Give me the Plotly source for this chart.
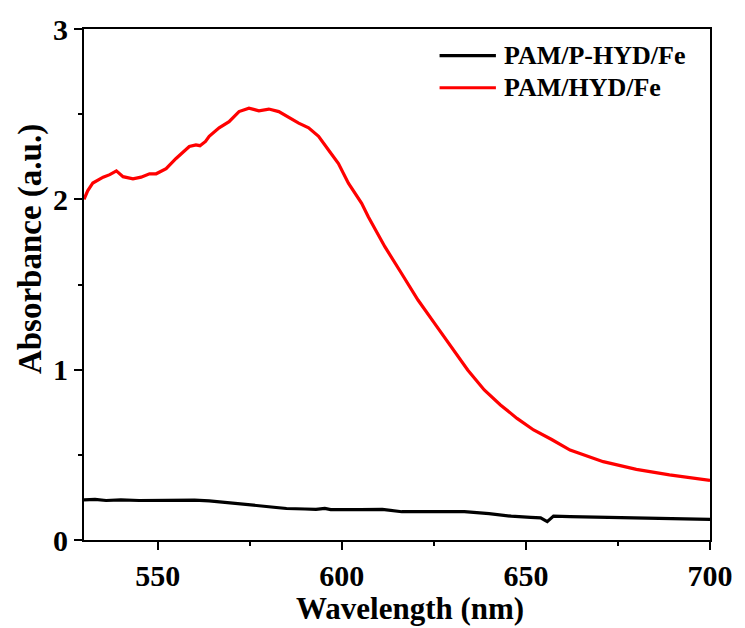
import plotly.graph_objects as go

# Data
wl_red = [530, 531, 532.4, 535.2, 537, 538.8, 540.6, 543.3, 545.5, 547.8, 549.6, 552.3, 555.0,
          558.6, 560.4, 561.5, 563, 564.0, 566.7, 569.4, 572.1, 574.8, 577.5, 580.2, 582.9,
          585.6, 588.3, 591.0, 593.7, 596.4, 599.1, 601.8, 605.4, 607.2, 611.7, 616.2, 620.7,
          625.2, 629.7, 634.2, 638.7, 643.1, 647.6, 652.1, 657, 662.0, 671.0, 680.0, 689.0, 700]
abs_red = [2.00, 2.05, 2.096, 2.13, 2.145, 2.167, 2.133, 2.12, 2.13, 2.15, 2.15, 2.18, 2.24,
           2.31, 2.32, 2.315, 2.34, 2.37, 2.42, 2.456, 2.515, 2.535, 2.52, 2.53, 2.515,
           2.48, 2.447, 2.42, 2.37, 2.29, 2.21, 2.095, 1.977, 1.898, 1.722, 1.566, 1.409,
           1.272, 1.135, 0.998, 0.881, 0.793, 0.714, 0.646, 0.59, 0.528, 0.46, 0.415, 0.382, 0.35]

wl_black = [530, 533, 536, 540, 545, 550, 555, 560, 564, 568.7, 575, 580.3, 585, 590, 593,
            595.4, 597, 605, 611, 616.3, 625, 633.3, 640, 646, 651.3, 654, 655.8, 657.5,
            662, 669.2, 680, 690, 700]
abs_black = [0.235, 0.238, 0.232, 0.235, 0.232, 0.233, 0.235, 0.234, 0.23, 0.219, 0.205, 0.192,
             0.185, 0.182, 0.180, 0.186, 0.178, 0.178, 0.18, 0.166, 0.168, 0.166, 0.155, 0.14,
             0.133, 0.13, 0.108, 0.14, 0.137, 0.134, 0.126, 0.124, 0.121]

names = ["PAM/P-HYD/Fe", "PAM/HYD/Fe"]
colors = ["#000000", "#ff0000"]

x_ticks = [550, 600, 650, 700]
y_ticks = [0, 1, 2, 3]

FONT = "Liberation Serif"

fig = go.Figure()
fig.add_trace(go.Scatter(x=wl_black, y=abs_black, mode="lines", name=names[0],
                         line=dict(color=colors[0], width=3.2), showlegend=False))
fig.add_trace(go.Scatter(x=wl_red, y=abs_red, mode="lines", name=names[1],
                         line=dict(color=colors[1], width=3.2), showlegend=False))

axis_common = dict(showgrid=False, zeroline=False, showline=True, linecolor="black",
                   linewidth=2, mirror=True, ticks="outside", ticklen=8, tickwidth=2,
                   tickcolor="black",
                   tickfont=dict(family=FONT, size=30, color="black", weight="bold"))

fig.update_xaxes(range=[530, 700], tickvals=x_ticks, ticktext=[str(v) for v in x_ticks],
                 minor=dict(ticks="outside", ticklen=4, tickwidth=2, tickcolor="black",
                            tickvals=[575, 625, 675]),
                 **axis_common)
fig.update_yaxes(range=[0, 3], tickvals=y_ticks, ticktext=[str(v) for v in y_ticks],
                 minor=dict(ticks="outside", ticklen=4, tickwidth=2, tickcolor="black",
                            tickvals=[0.5, 1.5, 2.5]),
                 **axis_common)

# Manual legend (line samples + labels)
leg_y = [0.948, 0.885]
for i in range(2):
    fig.add_shape(type="line", xref="paper", yref="paper", x0=0.568, x1=0.658,
                  y0=leg_y[i], y1=leg_y[i], line=dict(color=colors[i], width=3.2))
    fig.add_annotation(xref="paper", yref="paper", x=0.667, y=leg_y[i], text=names[i],
                       showarrow=False, xanchor="left", yanchor="middle",
                       font=dict(family=FONT, size=26, color="black", weight="bold"))

# Axis titles
fig.add_annotation(xref="paper", yref="paper", x=0.52, y=-0.1722, text="Wavelength (nm)",
                   showarrow=False, xanchor="center", yanchor="bottom",
                   font=dict(family=FONT, size=31, color="black", weight="bold"))
fig.add_annotation(xref="paper", yref="paper", x=-0.0857, y=0.57, text="Absorbance (a.u.)",
                   showarrow=False, xanchor="center", yanchor="middle", textangle=-90,
                   font=dict(family=FONT, size=33, color="black", weight="bold"))

fig.update_layout(width=745, height=628, margin=dict(l=84, r=31, t=29, b=88),
                  paper_bgcolor="white", plot_bgcolor="white")

fig.write_html("out.html")
